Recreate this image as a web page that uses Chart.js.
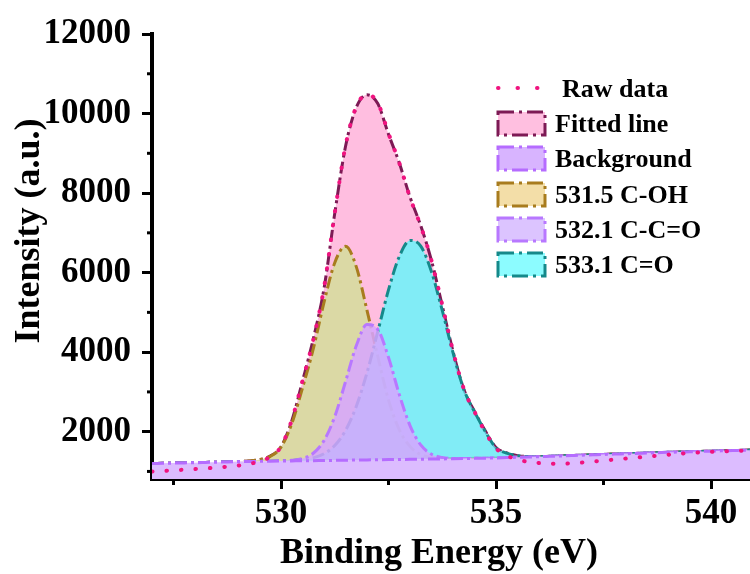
<!DOCTYPE html>
<html>
<head>
<meta charset="utf-8">
<title>O 1s XPS</title>
<script src="https://cdn.jsdelivr.net/npm/chart.js@4"></script>
<style>
  html, body { margin: 0; padding: 0; background: #fff; overflow: hidden; }
  canvas { display: block; }
</style>
</head>
<body>
<canvas id="xpsChart" width="756" height="574"></canvas>
<script>
// Binding energy grid (eV)
const energy = [527, 527.25, 527.5, 527.75, 528, 528.25, 528.5, 528.75, 529, 529.25, 529.5, 529.75,
  530, 530.25, 530.5, 530.75, 531, 531.25, 531.5, 531.75, 532, 532.25, 532.5, 532.75,
  533, 533.25, 533.5, 533.75, 534, 534.25, 534.5, 534.75, 535, 535.25, 535.5, 535.75,
  536, 536.25, 536.5, 536.75, 537, 537.25, 537.5, 537.75, 538, 538.25, 538.5, 538.75,
  539, 539.25, 539.5, 539.75, 540, 540.25, 540.5, 540.75, 541];

// Intensities
const rawData = [1000, 1012, 1028, 1044, 1060, 1078, 1098, 1120, 1148, 1188, 1250, 1370,
  1625, 2290, 3280, 4310, 5620, 7500, 9190, 10170, 10480, 10270, 9500, 8760,
  7890, 7170, 6300, 5190, 4030, 3080, 2500, 1990, 1580, 1400, 1300, 1240,
  1212, 1198, 1192, 1205, 1225, 1248, 1272, 1298, 1322, 1346, 1370, 1395,
  1420, 1444, 1465, 1480, 1495, 1505, 1515, 1525, 1535];

const fittedLine = [1200, 1205, 1210, 1215, 1220, 1226, 1232, 1239, 1248, 1262, 1295, 1385,
  1620, 2270, 3270, 4330, 5600, 7490, 9170, 10150, 10470, 10250, 9480, 8760,
  7900, 7180, 6300, 5170, 4020, 3070, 2510, 2020, 1600, 1465, 1398, 1376,
  1372, 1380, 1390, 1400, 1410, 1419, 1428, 1436, 1445, 1454, 1462, 1471,
  1480, 1488, 1495, 1503, 1510, 1518, 1525, 1533, 1540];

const background = [1200, 1205, 1210, 1215, 1220, 1226, 1232, 1239, 1245, 1249, 1253, 1258,
  1262, 1265, 1268, 1272, 1275, 1279, 1283, 1286, 1290, 1294, 1298, 1301,
  1305, 1308, 1311, 1315, 1318, 1323, 1329, 1334, 1340, 1348, 1355, 1362,
  1370, 1380, 1390, 1400, 1410, 1419, 1428, 1436, 1445, 1454, 1462, 1471,
  1480, 1488, 1495, 1503, 1510, 1518, 1525, 1533, 1540];

const peakCOH = [1200, 1205, 1210, 1215, 1220, 1226, 1232, 1239, 1248, 1262, 1296, 1380,
  1612, 2200, 3100, 4080, 5250, 6250, 6660, 6150, 5050, 3900, 2800, 2050,
  1630, 1425, 1350, 1325, 1320, 1323, 1329, 1334, 1340, 1348, 1355, 1362,
  1370, 1380, 1390, 1400, 1410, 1419, 1428, 1436, 1445, 1454, 1462, 1471,
  1480, 1488, 1495, 1503, 1510, 1518, 1525, 1533, 1540];

const peakCCO = [1200, 1205, 1210, 1215, 1220, 1226, 1232, 1239, 1245, 1249, 1253, 1258,
  1265, 1279, 1324, 1457, 1775, 2380, 3256, 4159, 4694, 4573, 3868, 2939,
  2154, 1666, 1434, 1349, 1326, 1323, 1329, 1334, 1340, 1348, 1355, 1362,
  1370, 1380, 1390, 1400, 1410, 1419, 1428, 1436, 1445, 1454, 1462, 1471,
  1480, 1488, 1495, 1503, 1510, 1518, 1525, 1533, 1540];

const peakCO = [1200, 1205, 1210, 1215, 1220, 1226, 1232, 1239, 1245, 1249, 1253, 1258,
  1265, 1273, 1293, 1341, 1444, 1653, 2030, 2633, 3483, 4513, 5564, 6402,
  6809, 6667, 6019, 5048, 3989, 3068, 2500, 2010, 1595, 1460, 1395, 1375,
  1372, 1380, 1390, 1400, 1410, 1419, 1428, 1436, 1445, 1454, 1462, 1471,
  1480, 1488, 1495, 1503, 1510, 1518, 1525, 1533, 1540];

// Ticks: labelled majors and unlabelled minors
const xMajorTicks = [530, 535, 540];
const xMinorTicks = [527.5, 532.5, 537.5];
const yMajorTicks = [2000, 4000, 6000, 8000, 10000, 12000];
const yMinorTicks = [1000, 3000, 5000, 7000, 9000, 11000];

const legendLabels = ['Raw data', 'Fitted line', 'Background', '531.5 C-OH', '532.1 C-C=O', '533.1 C=O'];

const FONT = "'Liberation Serif', 'Times New Roman', serif";
const DASH_DOT = [12, 4, 3, 4];

const pts = ys => energy.map((x, i) => ({ x: x, y: ys[i] }));

function curve(label, ys, color, fill, bg, order) {
  return {
    label: label,
    data: pts(ys),
    borderColor: color,
    borderWidth: 3,
    borderDash: DASH_DOT,
    backgroundColor: bg,
    fill: fill,
    pointRadius: 0,
    cubicInterpolationMode: 'monotone',
    order: order
  };
}

// Legend swatches: fill colour, stroke colour (null fill = dotted line)
const legendStyles = [
  { fill: null, stroke: '#f0137f' },
  { fill: '#ffbfe0', stroke: '#7d1a55' },
  { fill: '#d8b4ff', stroke: '#b56cff' },
  { fill: '#f3dea8', stroke: '#a87c1e' },
  { fill: '#dcc4ff', stroke: '#b878ff' },
  { fill: '#8cfcff', stroke: '#15898a' }
];

const decorations = {
  id: 'decorations',
  afterDraw(chart) {
    const { ctx, scales: { x, y } } = chart;
    ctx.save();
    // minor ticks
    ctx.strokeStyle = '#000';
    ctx.lineWidth = 3;
    ctx.setLineDash([]);
    xMinorTicks.forEach(v => {
      const px = x.getPixelForValue(v);
      ctx.beginPath(); ctx.moveTo(px, x.top); ctx.lineTo(px, x.top + 6); ctx.stroke();
    });
    yMinorTicks.forEach(v => {
      const py = y.getPixelForValue(v);
      ctx.beginPath(); ctx.moveTo(y.right, py); ctx.lineTo(y.right - 5, py); ctx.stroke();
    });

    // axis titles
    ctx.fillStyle = '#000';
    ctx.font = 'bold 36px ' + FONT;
    ctx.textAlign = 'center';
    ctx.textBaseline = 'alphabetic';
    ctx.fillText('Binding Energy (eV)', 439, 563);
    ctx.save();
    ctx.translate(39, 231);
    ctx.rotate(-Math.PI / 2);
    ctx.fillText('Intensity (a.u.)', 0, 0);
    ctx.restore();

    // legend
    const baselines = [97, 132, 167, 203, 238, 273];
    ctx.font = 'bold 26px ' + FONT;
    ctx.textAlign = 'left';
    legendLabels.forEach((text, i) => {
      const st = legendStyles[i];
      const yb = baselines[i];
      ctx.strokeStyle = st.stroke;
      ctx.lineWidth = 3;
      if (st.fill === null) {
        ctx.lineCap = 'round';
        ctx.setLineDash([0.5, 19]);
        ctx.lineWidth = 4;
        ctx.beginPath(); ctx.moveTo(498, yb - 9); ctx.lineTo(545, yb - 9); ctx.stroke();
        ctx.lineCap = 'butt';
      } else {
        ctx.fillStyle = st.fill;
        ctx.fillRect(498, yb - 20, 47, 23);
        ctx.setLineDash([16, 5, 3, 5]);
        ctx.strokeRect(498, yb - 20, 47, 23);
      }
      ctx.setLineDash([]);
      ctx.fillStyle = '#000';
      ctx.fillText(text, i === 0 ? 562 : 555, yb);
    });
    ctx.restore();
  }
};

new Chart(document.getElementById('xpsChart'), {
  type: 'line',
  data: {
    datasets: [
      {
        label: legendLabels[0],
        data: pts(rawData),
        borderColor: '#f0137f',
        borderWidth: 4,
        borderDash: [0.5, 14],
        borderCapStyle: 'round',
        fill: false,
        pointRadius: 0,
        cubicInterpolationMode: 'monotone',
        order: 0
      },
      curve(legendLabels[1], fittedLine, '#7d1a55', 2, '#ffbee0', 5),
      curve(legendLabels[2], background, '#b56cff', 'start', '#dcbcff', 1),
      curve(legendLabels[3], peakCOH, '#a87c1e', 2, 'rgba(195,235,125,0.6)', 4),
      curve(legendLabels[4], peakCCO, '#b878ff', 2, 'rgba(215,165,255,0.85)', 2),
      curve(legendLabels[5], peakCO, '#15898a', 2, 'rgba(75,255,255,0.7)', 3)
    ]
  },
  options: {
    responsive: false,
    animation: false,
    layout: { padding: { left: 0, right: 2, top: 34, bottom: 0 } },
    plugins: { legend: { display: false }, tooltip: { enabled: false } },
    scales: {
      x: {
        type: 'linear',
        min: 527,
        max: 541,
        afterFit: s => { s.height = 95; },
        afterBuildTicks: s => { s.ticks = xMajorTicks.map(v => ({ value: v })); },
        border: { display: true, color: '#000', width: 4 },
        grid: { drawOnChartArea: false, drawTicks: true, tickLength: 10, tickWidth: 3, tickColor: '#000' },
        ticks: {
          autoSkip: false,
          maxRotation: 0,
          padding: 4,
          color: '#000',
          font: { family: FONT, size: 35, weight: 'bold' },
          callback: v => String(v)
        }
      },
      y: {
        type: 'linear',
        min: 810,
        max: 12000,
        afterFit: s => { s.width = 152; },
        afterBuildTicks: s => { s.ticks = yMajorTicks.map(v => ({ value: v })); },
        border: { display: true, color: '#000', width: 4 },
        grid: { drawOnChartArea: false, drawTicks: true, tickLength: 10, tickWidth: 3, tickColor: '#000' },
        ticks: {
          autoSkip: false,
          padding: 11,
          color: '#000',
          font: { family: FONT, size: 35, weight: 'bold' },
          callback: v => String(v)
        }
      }
    }
  },
  plugins: [decorations]
});
</script>
</body>
</html>
